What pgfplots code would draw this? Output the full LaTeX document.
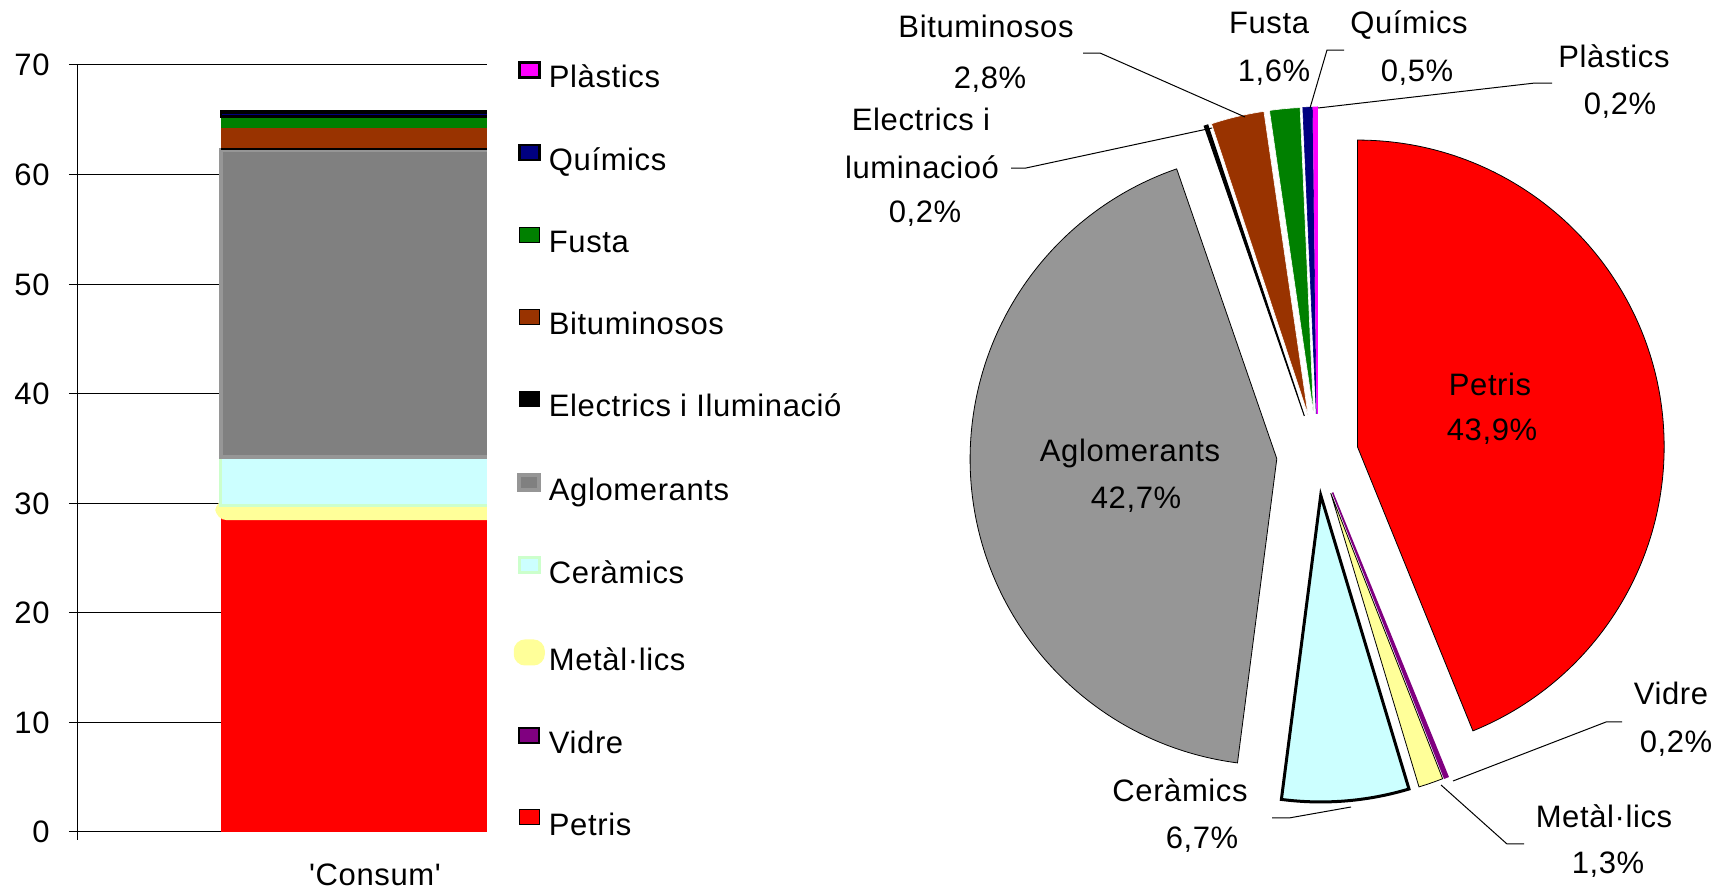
\documentclass[border=0pt]{standalone}
\usepackage{fontspec}
\setmainfont{Liberation Sans}[LetterSpace=2, Ligatures=TeXOff]
\usepackage{pgfplots}
\pgfplotsset{compat=1.18}
\definecolor{cPet}{HTML}{FF0000}
\definecolor{cVid}{HTML}{800080}
\definecolor{cMet}{HTML}{FFFF99}
\definecolor{cCer}{HTML}{CCFFFF}
\definecolor{cCerB}{HTML}{CCFFCC}
\definecolor{cAglB}{HTML}{808080}
\definecolor{cAglP}{HTML}{969696}
\definecolor{cBit}{HTML}{993300}
\definecolor{cFus}{HTML}{008000}
\definecolor{cQui}{HTML}{000080}
\definecolor{cPla}{HTML}{FF00FF}
\newcommand\lf{\fontsize{15.5bp}{18bp}\selectfont}
% pie slice: #1 start percent, #2 end percent, #3 style (exploded)
\newcommand\pieslice[3]{%
  \draw[#3] (axis cs:1317.4,454.6) ++({90-(#1+#2)*1.7982}:20.4bp)
     -- ++({90-#1*3.5964}:153.35bp)
     arc[start angle={90-#1*3.5964}, end angle={90-#2*3.5964}, radius=153.35bp] -- cycle;}
\newcommand\lab[3]{\node[anchor=base, inner sep=0pt] at (axis cs:#1,#2) {#3};}
\begin{document}
\begin{tikzpicture}[font=\lf]
% ---------- pie (canvas in pixel units) ----------
\begin{axis}[at={(0,0)}, anchor=south west, scale only axis,
  width=865bp, height=445bp, xmin=0, xmax=1730, ymin=0, ymax=890,
  y dir=reverse, hide axis, clip=false]
\path (axis cs:0,0) rectangle (axis cs:1730,890);
\pieslice{0}{43.9}{fill=cPet}
\pieslice{43.9}{44.1}{fill=cVid, draw=cVid, line width=0.75bp}
\pieslice{44.1}{45.4}{fill=cMet}
\pieslice{45.4}{52.1}{fill=cCer, draw=black, line width=1.5bp}
\pieslice{52.1}{94.8}{fill=cAglP}
\pieslice{94.8}{95.0}{fill=black, draw=black, line width=0.5bp}
\pieslice{95.0}{97.8}{fill=cBit, draw=white, line width=0.3bp}
\pieslice{97.8}{99.4}{fill=cFus, draw=white, line width=0.3bp}
\pieslice{99.4}{99.9}{fill=cQui, draw=cQui, line width=0.3bp}
\pieslice{99.9}{100.1}{fill=cPla, draw=cPla, line width=0.6bp}
% leader lines
\draw[line width=0.5bp] (axis cs:1083,53) -- (axis cs:1100,53) -- (axis cs:1245,117);
\draw[line width=0.5bp] (axis cs:1344,50) -- (axis cs:1327,50) -- (axis cs:1310,108);
\draw[line width=0.5bp] (axis cs:1552,83) -- (axis cs:1535,83) -- (axis cs:1318,108);
\draw[line width=0.5bp] (axis cs:1011,168) -- (axis cs:1026,168) -- (axis cs:1212,128);
\draw[line width=0.5bp] (axis cs:1272,818) -- (axis cs:1289,818) -- (axis cs:1351,807);
\draw[line width=0.5bp] (axis cs:1622,722) -- (axis cs:1606,722) -- (axis cs:1453,781);
\draw[line width=0.5bp] (axis cs:1441,785) -- (axis cs:1507,844) -- (axis cs:1524,844);
% labels
\lab{986}{37}{Bituminosos}
\lab{990}{88}{2,8\%}
\lab{1269}{33}{Fusta}
\lab{1274}{81}{1,6\%}
\lab{1409}{33}{Químics}
\lab{1417}{81}{0,5\%}
\lab{1614}{67}{Plàstics}
\lab{1620}{114}{0,2\%}
\lab{921}{130}{Electrics i}
\lab{922}{178}{luminacioó}
\lab{925}{222}{0,2\%}
\lab{1130}{462}{Aglomerants}
\lab{1136}{509}{42,7\%}
\lab{1490}{396}{Petris}
\lab{1492}{441}{43,9\%}
\lab{1180}{802}{Ceràmics}
\lab{1202}{849}{6,7\%}
\lab{1671}{705}{Vidre}
\lab{1676}{753}{0,2\%}
\lab{1604}{828}{Metàl·lics}
\lab{1608}{874}{1,3\%}
\end{axis}
% ---------- stacked bar ----------
\begin{axis}[at={(38.5bp,29bp)}, anchor=south west, scale only axis,
  width=205bp, height=383.5bp,
  xmin=0, xmax=410, ymin=0, ymax=70,
  ybar stacked, reverse stacked plots=false, bar width=154bp,
  legend image code/.code={\draw[#1] (0bp,1.75bp) rectangle (10bp,9.25bp);},
  axis x line*=bottom, axis y line*=left,
  axis line style={black, line width=0.5bp},
  ytick={0,10,...,70}, xtick={0}, xticklabels={},
  ymajorgrids, grid style={black, line width=0.5bp},
  tick style={black, line width=0.5bp}, major tick length=4bp,
  tick align=outside,
  /pgf/number format/assume math mode=true,
  yticklabel style={anchor=base east, inner sep=0pt, yshift=-5.5bp, xshift=-9.5bp},
  xlabel={'Consum'},
  xlabel style={at={(axis description cs:0.7268,0)}, anchor=base, yshift=-27bp, inner sep=0pt},
  legend style={at={(1.0643,1.0056)}, anchor=north west, draw=none, fill=none,
    inner sep=0pt, row sep=24.05bp, column sep=2.1bp, font=\lf,
    nodes={inner sep=0pt, text height=11bp, text depth=4bp}},
  legend cell align=left, reverse legend,
]
\addplot[fill=cPet, draw=none] coordinates {(298,28.84)};
\addplot[fill=cVid, draw=black, line width=1bp] coordinates {(298,0.13)};
\addplot[fill=cMet, draw=cMet, line width=5.5bp, rounded corners=3bp] coordinates {(298,0.85)};
\addplot[fill=cCer, draw=cCerB, line width=1.5bp] coordinates {(298,4.40)};
\addplot[fill=cAglB, draw=cAglP, line width=2bp] coordinates {(298,28.05)};
\addplot[fill=black, draw=none] coordinates {(298,0.13)};
\addplot[fill=cBit, draw=none] coordinates {(298,1.84)};
\addplot[fill=cFus, draw=none] coordinates {(298,1.05)};
\addplot[fill=cQui, draw=black, line width=1.25bp] coordinates {(298,0.33)};
\addplot[fill=cPla, draw=black, line width=1.25bp] coordinates {(298,0.13)};
\legend{Petris, Vidre, Metàl·lics, Ceràmics, Aglomerants, Electrics i Iluminació, Bituminosos, Fusta, Químics, Plàstics}
\end{axis}
\end{tikzpicture}
\end{document}
